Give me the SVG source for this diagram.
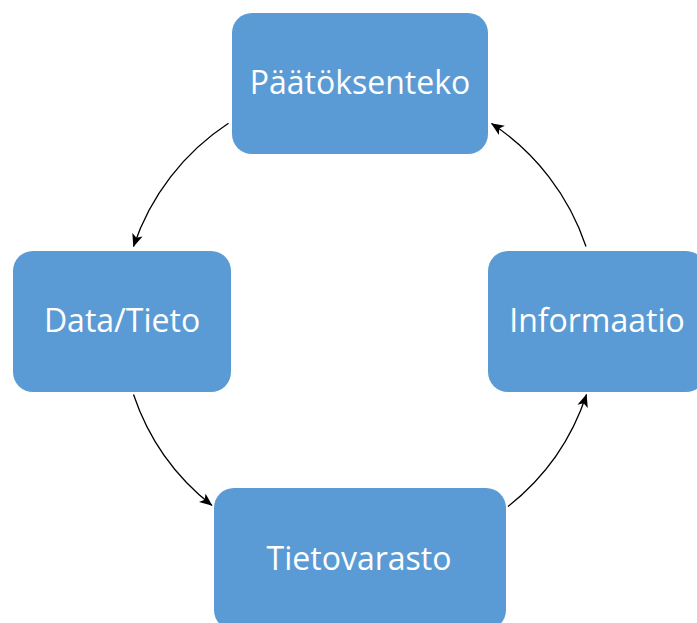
<svg xmlns="http://www.w3.org/2000/svg" width="697" height="623" viewBox="0 0 697 623">
<style>
.box{fill:#5B9BD5;}
.lbl{font-family:"Open Sans","Liberation Sans",sans-serif;font-size:32px;fill:#FFFFFF;text-anchor:middle;}
.conn{fill:none;stroke:#000000;stroke-width:1.3;}
</style>
<defs>
<marker id="arr" markerUnits="userSpaceOnUse" viewBox="0 0 12 10" markerWidth="13" markerHeight="11" refX="11.5" refY="5" orient="auto">
<path d="M0,0 L12,5 L0,10 L3,5 z" fill="#000000"/>
</marker>
</defs>
<rect width="697" height="623" fill="#FFFFFF"/>
<g id="connectors">
<path class="conn" d="M228.5,123.3 A237,237 0 0 0 133.5,246.5" marker-end="url(#arr)"/>
<path class="conn" d="M133.5,394.5 A237,237 0 0 0 212,505.5" marker-end="url(#arr)"/>
<path class="conn" d="M508,506.5 A237,237 0 0 0 586.5,394.5" marker-end="url(#arr)"/>
<path class="conn" d="M586,246.5 A237,237 0 0 0 491.5,123.5" marker-end="url(#arr)"/>
</g>
<g id="node-paatoksenteko">
<rect class="box" x="232" y="13" width="256" height="141" rx="20" ry="20"/>
<text class="lbl" x="360" y="93.5">Päätöksenteko</text>
</g>
<g id="node-data-tieto">
<rect class="box" x="13" y="251" width="218" height="141" rx="20" ry="20"/>
<text class="lbl" x="122" y="332">Data/Tieto</text>
</g>
<g id="node-informaatio">
<rect class="box" x="488" y="251" width="218" height="141" rx="20" ry="20"/>
<text class="lbl" x="597" y="332">Informaatio</text>
</g>
<g id="node-tietovarasto">
<rect class="box" x="214" y="488" width="292" height="142" rx="20" ry="20"/>
<text class="lbl" x="359" y="569.5">Tietovarasto</text>
</g>
</svg>
